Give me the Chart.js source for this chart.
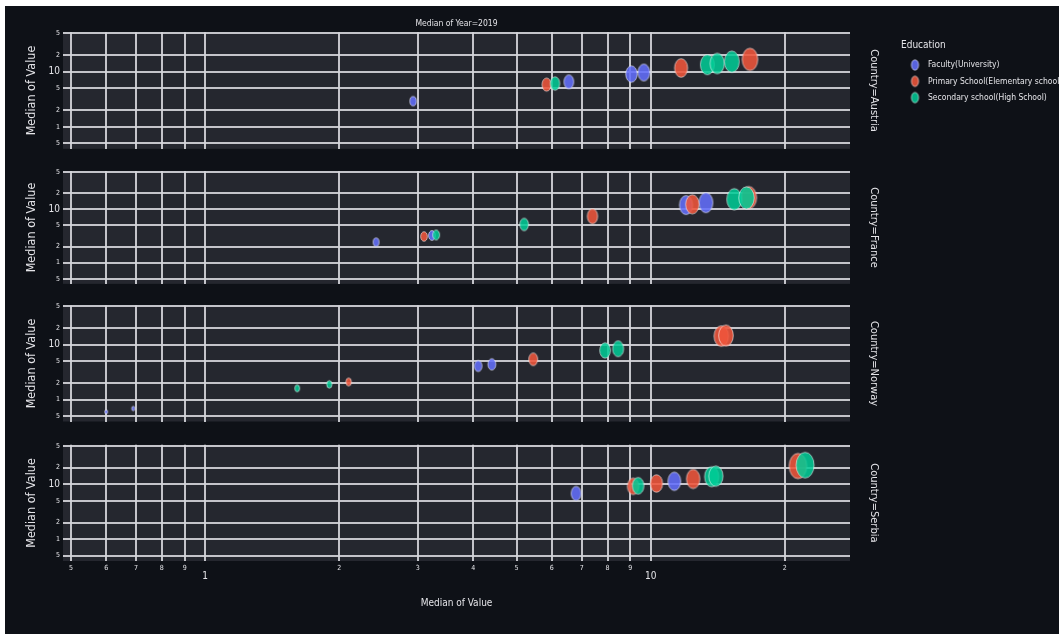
<!DOCTYPE html>
<html>
<head>
<meta charset="utf-8">
<title>Median of Value by Country and Education</title>
<script src="https://cdn.jsdelivr.net/npm/chart.js@4.4.1/dist/chart.umd.min.js"></script>
<style>
  html, body { margin: 0; padding: 0; background: #ffffff; width: 1059px; height: 637px; overflow: hidden; position: relative; }
  #frame { position: absolute; left: 5px; top: 6px; width: 1054px; height: 628px; background: #0e1117; }
  canvas { position: absolute; left: 0; }
</style>
</head>
<body>
<div id="frame"></div>
<canvas id="row0" width="1059" height="160" style="top:0px;width:1059px;height:160px"></canvas>
<canvas id="row1" width="1059" height="135" style="top:160px;width:1059px;height:135px"></canvas>
<canvas id="row2" width="1059" height="137" style="top:295px;width:1059px;height:137px"></canvas>
<canvas id="row3" width="1059" height="205" style="top:432px;width:1059px;height:205px"></canvas>
<script>
// ---- data: median value per education level, one list per country ----
const educationLevels = ['Faculty(University)', 'Primary School(Elementary school)', 'Secondary school(High School)'];
const countries = ['Austria', 'France', 'Norway', 'Serbia'];

const austriaFaculty   = [2.93, 6.55, 9.05, 9.65];
const austriaPrimary   = [5.84, 11.7, 16.7];
const austriaSecondary = [6.1, 13.4, 14.1, 15.2];

const franceFaculty   = [2.42, 3.23, 12.0, 13.3];
const francePrimary   = [3.1, 7.4, 12.4, 16.6];
const franceSecondary = [3.3, 5.2, 15.4, 16.4];

const norwayFaculty   = [0.6, 0.69, 4.1, 4.4];
const norwayPrimary   = [2.1, 5.45, 14.4, 14.75];
const norwaySecondary = [1.61, 1.9, 7.9, 8.45];

const serbiaFaculty   = [6.8, 11.3];
const serbiaPrimary   = [9.13, 10.3, 12.45, 21.4];
const serbiaSecondary = [9.37, 13.7, 14.0, 22.2];

// log-axis ticks and their labels
const xTickValues = [0.5, 0.6, 0.7, 0.8, 0.9, 1, 2, 3, 4, 5, 6, 7, 8, 9, 10, 20];
const xTickLabels = ['5', '6', '7', '8', '9', '1', '2', '3', '4', '5', '6', '7', '8', '9', '10', '2'];
const yTickValues = [0.5, 1, 2, 5, 10, 20, 50];
const yTickLabels = ['5', '1', '2', '5', '10', '2', '5'];

const seriesByCountry = [
  [austriaFaculty, austriaPrimary, austriaSecondary],
  [franceFaculty, francePrimary, franceSecondary],
  [norwayFaculty, norwayPrimary, norwaySecondary],
  [serbiaFaculty, serbiaPrimary, serbiaSecondary]
];

// ---- styling ----
const FONT = "'Liberation Sans Narrow','DejaVu Sans Condensed','Arial Narrow','Liberation Sans',Arial,sans-serif";
const TEXT = '#e4e4e8';
const GRID = 'rgba(214,214,220,0.9)';
const PANEL = '#25272f';
const seriesColors = ['rgba(99,110,250,0.88)', 'rgba(239,85,59,0.88)', 'rgba(0,204,150,0.86)'];
const ASPECT = 0.7;   // markers are drawn as upright ellipses

Chart.defaults.font.family = FONT;
Chart.defaults.color = TEXT;

// marker size grows with the square root of the value (area scaling)
function bubbleRadius(v) { return 2.73 * Math.sqrt(v); }

const spriteCache = {};
function ellipseSprite(color, ry) {
  const key = color + '|' + ry.toFixed(2);
  if (spriteCache[key]) return spriteCache[key];
  const rx = ry * ASPECT;
  const c = document.createElement('canvas');
  c.width = Math.ceil(rx * 2 + 3);
  c.height = Math.ceil(ry * 2 + 3);
  const g = c.getContext('2d');
  g.beginPath();
  g.ellipse(c.width / 2, c.height / 2, rx, ry, 0, 0, Math.PI * 2);
  g.fillStyle = color;
  g.fill();
  g.lineWidth = 1;
  g.strokeStyle = 'rgba(255,255,255,0.55)';
  g.stroke();
  spriteCache[key] = c;
  return c;
}

const panelFill = {
  id: 'panelFill',
  beforeDraw(chart) {
    const { ctx, chartArea: a } = chart;
    ctx.save();
    ctx.fillStyle = PANEL;
    ctx.fillRect(a.left, a.top, a.right - a.left, a.bottom - a.top);
    ctx.restore();
  }
};

// legend block for the education series, drawn at the top right
const educationLegend = {
  id: 'educationLegend',
  afterDraw(chart) {
    const ctx = chart.ctx;
    ctx.save();
    ctx.textBaseline = 'middle';
    ctx.textAlign = 'left';
    ctx.fillStyle = TEXT;
    ctx.font = '10px ' + FONT;
    ctx.fillText('Education', 901, 45);
    ctx.font = '8.5px ' + FONT;
    chart.data.datasets.forEach((ds, i) => {
      const y = 65 + i * 16.3;
      const s = ellipseSprite(seriesColors[i], 5.2);
      ctx.drawImage(s, 915 - s.width / 2, y - s.height / 2);
      ctx.fillStyle = TEXT;
      ctx.fillText(ds.label, 928, y);
    });
    ctx.restore();
  }
};

const panelLayout = [
  { top: 0, axisHeight: 5 },
  { top: 8, axisHeight: 5 },
  { top: 10, axisHeight: 6 },
  { top: 8, axisHeight: 76 }
];

function makePanel(row) {
  const last = row === countries.length - 1;
  const datasets = educationLevels.map((name, k) => ({
    label: name,
    data: seriesByCountry[row][k].map(v => ({ x: v, y: v, r: bubbleRadius(v) })),
    backgroundColor: seriesColors[k],
    borderWidth: 0,
    order: 2 - k,
    pointStyle: ctx => ellipseSprite(seriesColors[k], ctx.raw ? ctx.raw.r : 4)
  }));

  return new Chart(document.getElementById('row' + row), {
    type: 'bubble',
    data: { datasets },
    plugins: row === 0 ? [panelFill, educationLegend] : [panelFill],
    options: {
      responsive: false,
      animation: false,
      events: [],
      layout: { padding: { left: 0, right: 179, top: panelLayout[row].top, bottom: 0 } },
      plugins: {
        legend: { display: false },
        tooltip: { enabled: false },
        title: {
          display: row === 0,
          text: 'Median of Year=2019',
          fullSize: false,
          color: TEXT,
          font: { size: 8.5, weight: 'normal', family: FONT },
          padding: { top: 19, bottom: 3 }
        }
      },
      scales: {
        x: {
          type: 'logarithmic',
          position: 'bottom',
          min: 0.48,
          max: 28,
          afterBuildTicks: axis => { axis.ticks = xTickValues.map(v => ({ value: v })); },
          afterFit: axis => { axis.height = panelLayout[row].axisHeight; },
          grid: { color: GRID, lineWidth: 2, drawTicks: false },
          border: { display: false },
          ticks: {
            display: last,
            autoSkip: false,
            maxRotation: 0,
            padding: 3,
            color: TEXT,
            callback: v => {
              const i = xTickValues.indexOf(v);
              if (i < 0) return '';
              return (v === 1 || v === 10) ? ['', xTickLabels[i]] : xTickLabels[i];
            },
            font: ctx => (ctx.tick && (ctx.tick.value === 1 || ctx.tick.value === 10))
              ? { size: 10, lineHeight: 0.8, family: FONT }
              : { size: 7, family: FONT }
          },
          title: {
            display: last,
            text: 'Median of Value',
            color: TEXT,
            font: { size: 10, family: FONT },
            padding: { top: 0, bottom: 28 }
          }
        },
        y: {
          type: 'logarithmic',
          position: 'left',
          min: 0.4,
          max: 52,
          afterBuildTicks: axis => { axis.ticks = yTickValues.map(v => ({ value: v })); },
          afterFit: axis => { axis.width = 63; },
          grid: { color: GRID, lineWidth: 2, drawTicks: false },
          border: { display: false },
          ticks: {
            autoSkip: false,
            padding: 3,
            color: TEXT,
            callback: v => {
              const i = yTickValues.indexOf(v);
              return i < 0 ? '' : yTickLabels[i];
            },
            font: ctx => (ctx.tick && ctx.tick.value === 10)
              ? { size: 10, family: FONT }
              : { size: 7, family: FONT }
          },
          title: {
            display: true,
            text: 'Median of Value',
            color: TEXT,
            font: { size: 12.5, family: FONT },
            padding: { top: 24, bottom: 0 }
          }
        },
        facet: {
          type: 'linear',
          position: 'right',
          min: 0,
          max: 1,
          afterFit: axis => { axis.width = 30; },
          grid: { display: false },
          border: { display: false },
          ticks: { display: false },
          title: {
            display: true,
            text: 'Country=' + countries[row],
            color: TEXT,
            font: { size: 11, family: FONT },
            padding: { top: 0, bottom: 0 }
          }
        }
      }
    }
  });
}

countries.forEach((_, row) => makePanel(row));
</script>
</body>
</html>
